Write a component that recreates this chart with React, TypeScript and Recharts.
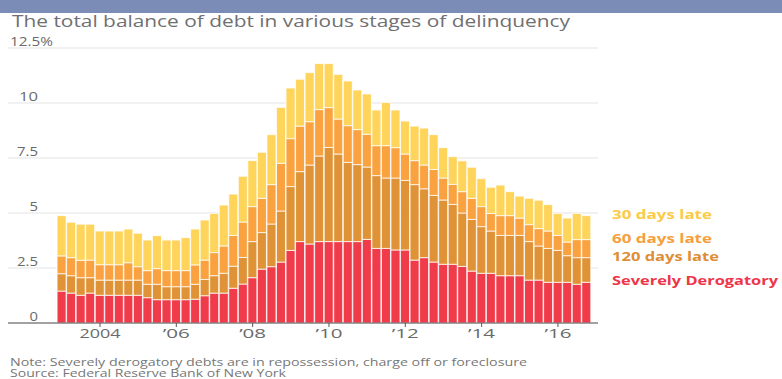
import React from "react";
import { BarChart, Bar, XAxis, YAxis, CartesianGrid } from "recharts";

const periods: number[] = Array.from({ length: 56 }, (_, i) => 2003 + i / 4);

const severe = [1.45, 1.36, 1.26, 1.36, 1.26, 1.26, 1.26, 1.26, 1.26, 1.15, 1.06, 1.06, 1.06, 1.06, 1.08, 1.24, 1.36, 1.36, 1.58, 1.77, 2.06, 2.45, 2.56, 2.77, 3.3, 3.7, 3.59, 3.7, 3.7, 3.7, 3.7, 3.7, 3.8, 3.39, 3.39, 3.32, 3.32, 2.86, 2.97, 2.77, 2.67, 2.67, 2.57, 2.36, 2.26, 2.26, 2.15, 2.15, 2.15, 1.95, 1.95, 1.85, 1.85, 1.85, 1.76, 1.85];
const late120 = [0.79, 0.79, 0.8, 0.7, 0.69, 0.69, 0.69, 0.69, 0.69, 0.61, 0.7, 0.59, 0.59, 0.59, 0.68, 0.74, 0.79, 0.9, 1.0, 1.21, 1.64, 1.66, 1.94, 2.32, 2.9, 3.18, 3.59, 3.89, 4.28, 3.98, 3.6, 3.5, 3.29, 3.31, 3.2, 3.27, 3.16, 3.43, 3.13, 3.03, 2.92, 2.72, 2.43, 2.35, 2.12, 1.92, 1.83, 1.83, 1.83, 1.75, 1.55, 1.54, 1.45, 1.21, 1.21, 1.12];
const late60 = [0.81, 0.82, 0.79, 0.8, 0.7, 0.7, 0.7, 0.79, 0.61, 0.62, 0.71, 0.73, 0.73, 0.73, 0.88, 0.88, 1.05, 1.24, 1.4, 1.61, 1.59, 1.56, 1.79, 2.17, 2.18, 2.07, 1.97, 2.11, 1.81, 1.59, 1.67, 1.59, 1.49, 1.36, 1.47, 1.38, 1.2, 1.09, 1.08, 1.18, 1.0, 0.91, 0.97, 0.96, 0.91, 0.8, 0.9, 0.9, 0.79, 0.77, 0.79, 0.79, 0.68, 0.62, 0.82, 0.82];
const late30 = [1.83, 1.61, 1.64, 1.63, 1.53, 1.53, 1.53, 1.53, 1.52, 1.39, 1.5, 1.39, 1.39, 1.5, 1.63, 1.82, 1.78, 1.86, 1.88, 2.08, 2.09, 2.09, 2.27, 2.54, 2.3, 2.13, 2.23, 2.09, 2.0, 2.03, 2.03, 1.8, 1.83, 1.62, 1.96, 1.71, 1.5, 1.57, 1.68, 1.58, 1.38, 1.26, 1.4, 1.41, 1.27, 1.19, 1.39, 1.09, 1.0, 1.2, 1.29, 1.2, 1.0, 1.09, 1.19, 1.09];

const xTicks = [2004, 2006, 2008, 2010, 2012, 2014, 2016];
const xTickLabels = ["2004", "\u201906", "\u201908", "\u201910", "\u201912", "\u201914", "\u201916"];
const yTicks = [0, 2.5, 5, 7.5, 10, 12.5];
const yTickLabels = ["0", "2.5", "5", "7.5", "10", "12.5%"];

const COLORS = {
  severe: "#F03B4B",
  d120: "#DF9336",
  d60: "#F9A23F",
  d30: "#FED45B",
};

const data = periods.map((t, i) => ({
  t,
  severe: severe[i],
  late120: late120[i],
  late60: late60[i],
  late30: late30[i],
}));

const FONT = "'Open Sans', 'DejaVu Sans', sans-serif";

const XTick = (props: any) => {
  const { x, payload } = props;
  const idx = xTicks.indexOf(payload.value);
  const label = idx >= 0 ? xTickLabels[idx] : String(payload.value);
  const w = label.length === 4 ? 41 : 27;
  return (
    <text x={x} y={338} textAnchor="middle" fontSize={12} fill="#6a6a6a" fontFamily={FONT} textLength={w} lengthAdjust="spacingAndGlyphs">
      {label}
    </text>
  );
};

const YTick = (props: any) => {
  const { y, payload } = props;
  const idx = yTicks.indexOf(payload.value);
  const label = idx >= 0 ? yTickLabels[idx] : String(payload.value);
  if (payload.value === 12.5) {
    return (
      <text x={10} y={y - 1.8} textAnchor="start" fontSize={12} fill="#6a6a6a" fontFamily={FONT} textLength={43} lengthAdjust="spacingAndGlyphs">
        {label}
      </text>
    );
  }
  const w = label.length === 1 ? 8.5 : label.length === 2 ? 19 : 21;
  return (
    <text x={38} y={y - 1.8} textAnchor="end" fontSize={12} fill="#6a6a6a" fontFamily={FONT} textLength={w} lengthAdjust="spacingAndGlyphs">
      {label}
    </text>
  );
};

export default function App() {
  const stroke = "rgba(255,255,255,0.75)";
  return (
    <div style={{ position: "absolute", left: 0, top: 0, width: 782, height: 379, background: "#fff", overflow: "hidden" }}>
      <div style={{ position: "absolute", left: 0, top: 0, width: 782, height: 13, background: "#7B8DB6" }} />
      <div style={{ position: "absolute", left: 0, top: 0 }}>
        <BarChart width={782} height={379} data={data} margin={{ top: 48, right: 184, bottom: 26, left: 0 }} barSize={9}>
          <CartesianGrid vertical={false} stroke="#e3e3e3" />
          <XAxis
            dataKey="t"
            type="number"
            domain={[2001.589, 2017.05]}
            ticks={xTicks}
            allowDataOverflow
            height={30}
            axisLine={{ stroke: "#555", strokeWidth: 1.2 }}
            tickLine={{ stroke: "#555" }}
            tickSize={4}
            tick={<XTick />}
            interval={0}
          />
          <YAxis
            type="number"
            domain={[0, 12.5]}
            ticks={yTicks}
            width={8}
            axisLine={false}
            tickLine={false}
            tick={<YTick />}
            interval={0}
            allowDataOverflow
          />
          <Bar dataKey="severe" stackId="a" fill={COLORS.severe} stroke={stroke} strokeWidth={1} isAnimationActive={false} />
          <Bar dataKey="late120" stackId="a" fill={COLORS.d120} stroke={stroke} strokeWidth={1} isAnimationActive={false} />
          <Bar dataKey="late60" stackId="a" fill={COLORS.d60} stroke={stroke} strokeWidth={1} isAnimationActive={false} />
          <Bar dataKey="late30" stackId="a" fill={COLORS.d30} stroke={stroke} strokeWidth={1} isAnimationActive={false} />
        </BarChart>
      </div>
      <svg width={782} height={379} style={{ position: "absolute", left: 0, top: 0, pointerEvents: "none" }}>
        <text x={12} y={26.5} fontSize={16} fill="#707070" fontFamily={FONT} textLength={558} lengthAdjust="spacingAndGlyphs">
          The total balance of debt in various stages of delinquency
        </text>
        <text x={612} y={218.5} fontSize={12} fontWeight={700} fill="#FBCB48" fontFamily={FONT} textLength={100} lengthAdjust="spacingAndGlyphs">
          30 days late
        </text>
        <text x={612} y={242.7} fontSize={12} fontWeight={700} fill="#F5A03C" fontFamily={FONT} textLength={100} lengthAdjust="spacingAndGlyphs">
          60 days late
        </text>
        <text x={612} y={260.7} fontSize={12} fontWeight={700} fill="#DE8E37" fontFamily={FONT} textLength={107} lengthAdjust="spacingAndGlyphs">
          120 days late
        </text>
        <text x={612} y={285} fontSize={12} fontWeight={700} fill="#EE3549" fontFamily={FONT} textLength={166} lengthAdjust="spacingAndGlyphs">
          Severely Derogatory
        </text>
        <text x={10} y={366} fontSize={10} fill="#777" fontFamily={FONT} textLength={517} lengthAdjust="spacingAndGlyphs">
          Note: Severely derogatory debts are in repossession, charge off or foreclosure
        </text>
        <text x={10} y={376.5} fontSize={10} fill="#777" fontFamily={FONT} textLength={276} lengthAdjust="spacingAndGlyphs">
          Source: Federal Reserve Bank of New York
        </text>
      </svg>
    </div>
  );
}
